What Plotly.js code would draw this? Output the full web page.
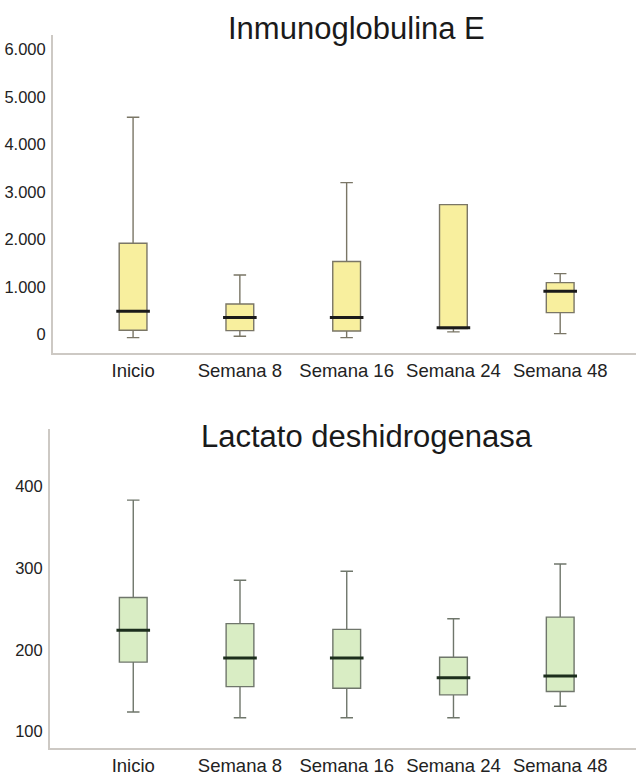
<!DOCTYPE html>
<html>
<head>
<meta charset="utf-8">
<script src="https://cdn.plot.ly/plotly-3.0.1.min.js"></script>
<style>html,body{margin:0;padding:0;background:#fff;}#chart{width:636px;height:776px;}</style>
</head>
<body>
<div id="chart"></div>
<script>
// Categories
var categories = ['Inicio', 'Semana 8', 'Semana 16', 'Semana 24', 'Semana 48'];

// Inmunoglobulina E (top)
var igeLower  = [-70, -40, -70, 50, 13];
var igeQ1     = [84, 77, 70, 120, 455];
var igeMedian = [484, 351, 351, 135, 906];
var igeQ3     = [1916, 638, 1531, 2729, 1088];
var igeUpper  = [4568, 1248, 3192, 2729, 1276];
var igeTickVals = [0, 1000, 2000, 3000, 4000, 5000, 6000];
var igeTickText = ['0', '1.000', '2.000', '3.000', '4.000', '5.000', '6.000'];

// Lactato deshidrogenasa (bottom)
var ldhLower  = [124, 117, 117, 117, 131];
var ldhQ1     = [185, 155, 153, 145, 149];
var ldhMedian = [224, 190, 190, 166, 168];
var ldhQ3     = [264, 232, 225, 191, 240];
var ldhUpper  = [383, 285, 296, 238, 305];
var ldhTickVals = [100, 200, 300, 400];
var ldhTickText = ['100', '200', '300', '400'];

var titleTop = 'Inmunoglobulina E';
var titleBottom = 'Lactato deshidrogenasa';

var FONT = 'Liberation Sans, Arial, sans-serif';

function boxTrace(lower, q1, med, q3, upper, fill, line, xa, ya) {
  return {
    type: 'box', x: categories, lowerfence: lower, q1: q1, median: med, q3: q3, upperfence: upper,
    fillcolor: fill, line: {color: line, width: 1.4}, width: 0.26, whiskerwidth: 0.45,
    boxpoints: false, hoverinfo: 'skip', showlegend: false, xaxis: xa, yaxis: ya
  };
}
function medianTrace(med, color, xa, ya) {
  return {
    type: 'scatter', mode: 'markers', x: categories, y: med,
    marker: {symbol: 'line-ew', size: 24, color: color, line: {color: color, width: 3}},
    hoverinfo: 'skip', showlegend: false, xaxis: xa, yaxis: ya
  };
}

var data = [
  boxTrace(igeLower, igeQ1, igeMedian, igeQ3, igeUpper, '#f8ef9e', '#7a7666', 'x', 'y'),
  medianTrace(igeMedian, '#1a1a1a', 'x', 'y'),
  boxTrace(ldhLower, ldhQ1, ldhMedian, ldhQ3, ldhUpper, '#d9edc4', '#6f766b', 'x2', 'y2'),
  medianTrace(ldhMedian, '#1c2e1c', 'x2', 'y2')
];

var axisLine = '#cdc9c4';
function xAxis(domain, range, anchor) {
  return {domain: domain, range: range, anchor: anchor, type: 'category', showline: true, linecolor: axisLine, linewidth: 2,
    showgrid: false, zeroline: false, ticks: '', ticklabelstandoff: 0,
    tickfont: {family: FONT, size: 18.5, color: '#222'}, fixedrange: true};
}
function yAxis(domain, range, anchor, vals, text) {
  return {domain: domain, range: range, anchor: anchor, showline: true, linecolor: axisLine, linewidth: 2,
    showgrid: false, zeroline: false, ticks: '', tickvals: vals, ticktext: text, ticklabelstandoff: 2,
    tickfont: {family: FONT, size: 16.5, color: '#222'}, fixedrange: true};
}

var layout = {
  width: 636, height: 776,
  margin: {l: 0, r: 0, t: 0, b: 0},
  paper_bgcolor: '#fff', plot_bgcolor: '#fff',
  xaxis: xAxis([53/636, 1], [-0.75, 4.71], 'y'),
  yaxis: yAxis([1 - 353/776, 1 - 35/776], [-394, 6300], 'x', igeTickVals, igeTickText),
  xaxis2: xAxis([50/636, 1], [-0.78, 4.71], 'y2'),
  yaxis2: yAxis([1 - 748/776, 1 - 429/776], [80, 470], 'x2', ldhTickVals, ldhTickText),
  annotations: [
    {text: titleTop, xref: 'paper', yref: 'paper', x: 356/636, y: 1 - 29/776, xanchor: 'center', yanchor: 'middle',
     showarrow: false, font: {family: FONT, size: 31, color: '#1a1a1a'}},
    {text: titleBottom, xref: 'paper', yref: 'paper', x: 366.7/636, y: 1 - 436/776, xanchor: 'center', yanchor: 'middle',
     showarrow: false, font: {family: FONT, size: 31, color: '#1a1a1a'}}
  ]
};

Plotly.newPlot('chart', data, layout, {displayModeBar: false, staticPlot: true});
</script>
</body>
</html>
